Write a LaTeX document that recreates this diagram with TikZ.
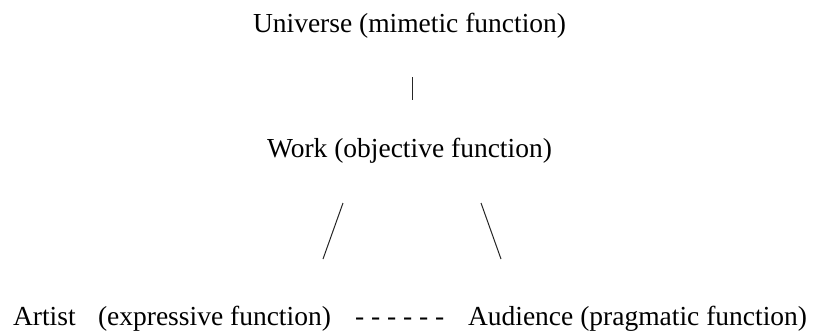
\documentclass[tikz,border=0pt]{standalone}
\usepackage{fontspec}
\setmainfont{Liberation Serif}
\begin{document}
\begin{tikzpicture}[x=1pt,y=1pt,
  lbl/.style={inner sep=0pt,outer sep=0pt,anchor=base west,font=\fontsize{27.5}{33}\selectfont},
  conn/.style={line width=1pt,color=black!85}]
\useasboundingbox (0,0) rectangle (813,333);
\node[lbl] (universe) at (253,301) {Universe (mimetic function)};
\node[lbl] (work) at (267,176) {Work (objective function)};
\node[lbl] (artist) at (13,8) {Artist};
\node[lbl] (expr) at (98,8) {(expressive function)};
\node[lbl] (dashes) at (355,8) {- - - - - -};
\node[lbl] (audience) at (468,8) {Audience (pragmatic function)};
\coordinate (v1) at (412,256);
\coordinate (v2) at (412,233);
\coordinate (l1) at (343,130);
\coordinate (l2) at (323,74);
\coordinate (r1) at (481,130);
\coordinate (r2) at (501,74);
\draw[conn] (v1) -- (v2);
\draw[conn] (l1) -- (l2);
\draw[conn] (r1) -- (r2);
\end{tikzpicture}
\end{document}
